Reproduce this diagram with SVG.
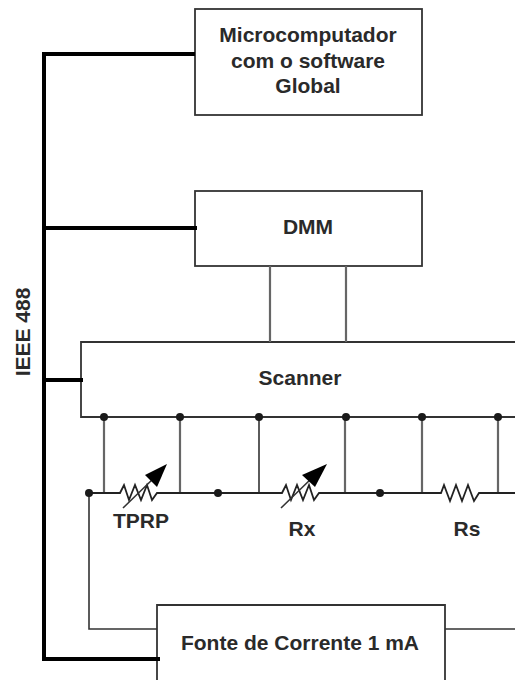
<svg xmlns="http://www.w3.org/2000/svg" width="515" height="680" viewBox="0 0 515 680">
<style>
.b{fill:#fff;stroke:#333;stroke-width:1.8}
.o{fill:none;stroke:#333;stroke-width:1.6}
.g{fill:none;stroke:#666;stroke-width:2.2}
.k{fill:none;stroke:#222;stroke-width:1.8}
.h{fill:none;stroke:#000;stroke-width:4}
.t{font-family:"Liberation Sans",Arial,sans-serif;font-weight:bold;font-size:21px;fill:#2a2a2a;text-anchor:middle}
.d{fill:#1a1a1a}
.a{fill:#000}
</style>
<rect width="515" height="680" fill="#fff"/>
<g id="micro"><rect class="b" x="195" y="9" width="227" height="106"/>
<text class="t" x="308" y="42">Microcomputador</text><text class="t" x="308" y="68">com o software</text><text class="t" x="308" y="93">Global</text></g>
<g id="dmm"><rect class="b" x="195" y="191" width="227" height="75"/><text class="t" x="308" y="234">DMM</text></g>
<g id="scanner"><path class="b" d="M515 342H81V417H515"/><text class="t" x="300" y="385">Scanner</text></g>
<g id="fonte"><path class="b" d="M157 680V605H445V680"/><text class="t" x="300" y="650">Fonte de Corrente 1 mA</text></g>
<g id="connectors">
<path class="h" d="M195 54H44V659H160"/>
<path class="h" d="M44 228H197"/>
<path class="h" d="M44 380H83"/>
<path class="g" d="M270 266V342M346 266V342"/>
<path class="g" d="M104 417V493M180 417V493"/>
<path class="o" d="M259 417V493"/>
<path class="g" d="M345 417V493M422 417V493M498 417V493"/>
<path class="o" d="M89 493V629H157M445 629H515"/>
<path class="k" d="M89 493H120L124 485L129 500L135 485L141 500L147 485L152 500L157 493H282L286 485L291 500L297 485L303 500L309 485L314 500L319 493H441L444 485L450 501L456 485L462 501L468 485L474 501L479 493H515"/>
<path class="o" d="M123 508L155 477M281 508L313 477"/>
<polygon class="a" points="167,464 145,475 157,487"/>
<polygon class="a" points="327,464 302,475 315,487"/>
<circle class="d" cx="104" cy="417" r="4"/><circle class="d" cx="180" cy="417" r="4"/><circle class="d" cx="259" cy="417" r="4"/><circle class="d" cx="346" cy="417" r="4"/><circle class="d" cx="422" cy="417" r="4"/><circle class="d" cx="498" cy="417" r="4"/>
<circle class="d" cx="89" cy="493" r="4"/><circle class="d" cx="218" cy="493" r="4"/><circle class="d" cx="380" cy="493" r="4"/>
</g>
<g id="labels">
<text class="t" x="141" y="528">TPRP</text><text class="t" x="302" y="536">Rx</text><text class="t" x="467" y="536">Rs</text>
<text class="t" transform="translate(30 332) rotate(-90)">IEEE 488</text>
</g>
</svg>
